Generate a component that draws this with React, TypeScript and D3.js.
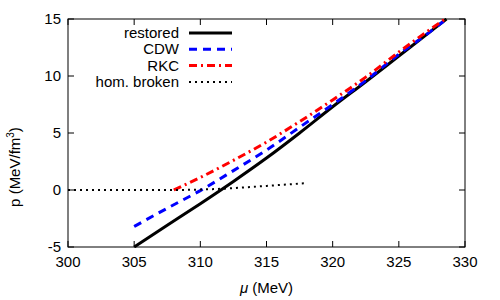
import React from "react";
import * as d3 from "d3";

// chemical potential (MeV) and pressure (MeV/fm^3)
const restoredMu = [305, 307.5, 310, 312.5, 315, 317.5, 320, 322.5, 325, 327.5, 328.6];
const restoredP = [-5, -3.1, -1.2, 0.75, 2.8, 5.0, 7.3, 9.5, 11.75, 14.0, 15.0];

const cdwMu = [305, 307.5, 310, 312.5, 315, 317.5, 320, 322.5, 325, 327.5, 328.6];
const cdwP = [-3.2, -1.6, -0.05, 1.7, 3.5, 5.5, 7.5, 9.6, 11.9, 14.0, 15.0];

const rkcMu = [308, 310, 312.5, 315, 317.5, 320, 322.5, 325, 327.5, 328.5];
const rkcP = [0, 1.1, 2.6, 4.2, 6.0, 7.9, 9.9, 12.1, 14.2, 15.0];

const homMu = [300, 302, 304, 306, 308, 309, 310, 311, 312, 313, 314, 315, 316, 317, 318];
const homP = [0, 0, 0, 0, 0, 0.01, 0.04, 0.08, 0.13, 0.2, 0.28, 0.36, 0.44, 0.52, 0.6];

const xTicks = [300, 305, 310, 315, 320, 325, 330];
const yTicks = [-5, 0, 5, 10, 15];

const series = [
  { name: "restored", mu: restoredMu, p: restoredP, color: "#000000", dash: "" },
  { name: "CDW", mu: cdwMu, p: cdwP, color: "#0000ff", dash: "8,6" },
  { name: "RKC", mu: rkcMu, p: rkcP, color: "#ff0000", dash: "8,4,2,4" },
  { name: "hom. broken", mu: homMu, p: homP, color: "#000000", dash: "2,4" },
];

export default function App() {
  const width = 500, height = 300;
  const margin = { top: 19, right: 35, bottom: 53, left: 68 };
  const x = d3.scaleLinear().domain([300, 330]).range([margin.left, width - margin.right]);
  const y = d3.scaleLinear().domain([-5, 15]).range([height - margin.bottom, margin.top]);
  const font = "'Liberation Sans', Arial, sans-serif";
  const tick = 6;

  const line = (mu: number[], p: number[]) =>
    d3.line<number>().x((d) => x(d)).y((d, i) => y(p[i])).curve(d3.curveMonotoneX)(mu) || "";

  return (
    <svg width={width} height={height} style={{ position: "absolute", left: 0, top: 0 }} fontFamily={font}>
      <rect x={0} y={0} width={width} height={height} fill="#fff" />
      <defs>
        <clipPath id="plot">
          <rect x={x(300)} y={y(15) - 1} width={x(330) - x(300)} height={y(-5) - y(15) + 2} />
        </clipPath>
      </defs>

      {/* frame and ticks */}
      <rect x={x(300)} y={y(15)} width={x(330) - x(300)} height={y(-5) - y(15)} fill="none" stroke="#000" strokeWidth={1} />
      {xTicks.map((t) => (
        <g key={"x" + t}>
          <line x1={x(t)} x2={x(t)} y1={y(-5)} y2={y(-5) - tick} stroke="#000" />
          <line x1={x(t)} x2={x(t)} y1={y(15)} y2={y(15) + tick} stroke="#000" />
          <text x={x(t)} y={y(-5) + 20} fontSize={15} textAnchor="middle">{t}</text>
        </g>
      ))}
      {yTicks.map((t) => (
        <g key={"y" + t}>
          <line x1={x(300)} x2={x(300) + tick} y1={y(t)} y2={y(t)} stroke="#000" />
          <line x1={x(330)} x2={x(330) - tick} y1={y(t)} y2={y(t)} stroke="#000" />
          <text x={x(300) - 7} y={y(t) + 5} fontSize={15} textAnchor="end">{t}</text>
        </g>
      ))}

      {/* axis titles */}
      <text x={x(315)} y={293} fontSize={15} textAnchor="middle">
        <tspan fontStyle="italic">μ</tspan> (MeV)
      </text>
      <text transform={`translate(20,${167}) rotate(-90)`} fontSize={15} textAnchor="middle">
        p (MeV/fm<tspan fontSize={10} dy={-6}>3</tspan><tspan dy={6}>)</tspan>
      </text>

      {/* curves */}
      <g clipPath="url(#plot)">
        {series.map((s) => (
          <path key={s.name} d={line(s.mu, s.p)} fill="none" stroke={s.color}
            strokeWidth={s.name === "hom. broken" ? 2 : 3} strokeDasharray={s.dash} />
        ))}
      </g>

      {/* legend */}
      {series.map((s, i) => {
        const ly = 33 + i * 16.3;
        return (
          <g key={"l" + s.name}>
            <text x={179} y={ly + 5} fontSize={15} textAnchor="end">{s.name}</text>
            <line x1={189} x2={232} y1={ly} y2={ly} stroke={s.color}
              strokeWidth={s.name === "hom. broken" ? 2 : 3} strokeDasharray={s.dash} />
          </g>
        );
      })}
    </svg>
  );
}
